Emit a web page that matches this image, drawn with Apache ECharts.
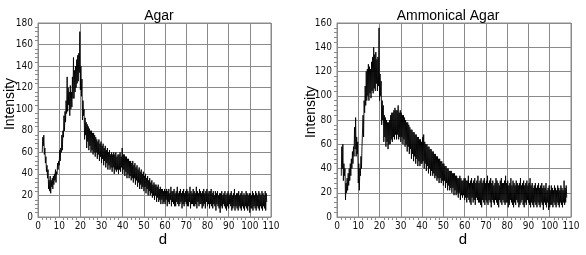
<!DOCTYPE html>
<html><head><meta charset="utf-8">
<script src="https://cdn.jsdelivr.net/npm/echarts@6/dist/echarts.min.js"></script>
<style>html,body{margin:0;padding:0;background:#fff}#c{width:586px;height:255px}</style>
</head><body><div id="c"></div>
<script>
// sampling grid of d (start, step)
const dStart = 2.0, dStep = 0.25;
const titles = ['Agar', 'Ammonical Agar'];
const yName = 'Intensity', xName = 'd';
const yMaxes = [180, 160];

// Agar intensity, d = 2.0 .. 108.0 step 0.25 (one row per unit of d)
const agar = [
 60,74,66,76, 58,64,50,56, 42,48,36,44, 26,34,24,38, 22,34,28,36,
 26,38,30,40, 34,44,32,42, 40,50,44,52, 48,62,52,64, 60,76,62,80,
 74,94,80,98, 88,108,96,130, 98,120,104,116, 94,122,100,116, 102,130,110,148,
 110,136,116,140, 120,146,124,150, 126,152,134,172, 118,140,112,128, 90,108,94,100,
 72,92,76,88, 64,86,70,84, 62,82,66,80, 60,80,62,78, 58,78,60,76,
 56,74,60,72, 54,70,58,72, 52,68,56,70, 50,66,54,68, 48,64,52,66,
 46,62,50,64, 44,60,48,62, 44,58,46,60, 42,58,46,60, 40,58,44,60,
 42,56,44,58, 40,58,44,60, 42,56,46,64, 40,58,44,58, 38,56,42,56,
 36,54,40,54, 36,52,38,52, 34,50,36,52, 32,48,36,50, 30,46,34,48,
 28,44,32,46, 26,42,30,44, 26,40,28,42, 24,38,28,40, 22,36,26,38,
 20,34,24,36, 20,32,22,34, 18,30,20,32, 16,30,20,30, 14,28,18,30,
 14,26,16,28, 12,26,16,26, 12,24,14,26, 12,24,16,26, 10,24,14,26,
 12,22,16,28, 10,24,14,24, 12,26,10,22, 10,24,14,28, 12,22,10,24,
 12,26,14,22, 8,24,12,26, 10,22,14,24, 12,26,10,24, 10,22,14,28,
 8,24,12,22, 12,26,10,24, 10,22,12,28, 8,24,14,22, 10,26,12,24,
 12,22,8,24, 10,26,12,22, 8,24,14,26, 10,22,12,24, 8,24,12,26,
 10,22,8,24, 12,20,10,24, 6,22,12,24, 10,20,8,22, 4,22,10,24,
 8,20,12,22, 10,24,8,20, 6,22,10,24, 8,20,12,22, 10,24,6,20,
 8,22,10,26, 6,20,10,22, 8,22,6,24, 10,20,8,22, 6,24,10,20,
 8,22,6,20, 10,24,8,22, 6,20,10,22, 4,22,8,20, 8,24,6,22,
 10,20,8,24, 6,22,10,20, 8,24,6,22, 10,20,8,24, 6,22,10,20,
 8,24,6,22, 14
];

// Ammonical Agar intensity, d = 2.0 .. 108.0 step 0.25 (one row per unit of d)
const ammonical = [
 34,58,40,60, 30,44,34,40, 14,28,20,32, 22,36,26,40, 30,44,34,48,
 40,54,44,58, 50,74,56,82, 50,66,52,62, 28,44,22,40, 34,50,40,58,
 58,84,66,96, 86,108,92,120, 96,122,100,126, 96,124,102,122, 98,128,104,132,
 102,140,106,134, 104,136,110,130, 104,132,108,156, 96,118,100,112, 76,96,80,92,
 62,84,66,82, 58,80,62,78, 56,78,60,80, 60,84,64,86, 62,86,66,88,
 64,90,68,88, 64,88,68,92, 64,86,66,88, 62,86,66,84, 60,84,64,82,
 58,80,60,78, 54,78,58,76, 52,74,56,72, 48,72,52,70, 46,70,50,68,
 44,68,48,66, 42,66,46,64, 42,64,44,62, 44,66,46,68, 40,62,44,60,
 38,60,42,58, 36,58,40,56, 34,56,38,54, 34,54,36,52, 32,52,34,50,
 30,50,32,48, 28,48,32,46, 28,46,30,44, 26,44,30,42, 24,42,28,40,
 22,40,26,38, 22,38,24,38, 20,36,24,36, 18,36,22,34, 18,34,20,32,
 16,32,20,34, 14,32,18,30, 16,30,18,32, 14,32,16,30, 12,30,16,34,
 14,28,12,30, 10,32,16,28, 12,30,14,32, 10,28,16,30, 14,34,12,28,
 12,30,10,32, 8,28,14,30, 12,32,10,28, 14,30,12,34, 10,28,14,30,
 12,32,8,28, 14,30,12,26, 10,28,14,32, 12,30,10,28, 8,26,14,30,
 12,32,10,28, 14,28,12,30, 10,34,12,28, 12,30,8,26, 10,28,14,32,
 12,26,10,30, 8,28,12,26, 10,30,14,28, 12,26,8,28, 10,32,12,26,
 14,28,10,30, 8,26,12,28, 10,30,14,26, 12,28,10,32, 8,26,12,28,
 10,24,8,26, 12,28,10,24, 8,26,12,28, 10,24,8,26, 12,28,10,24,
 6,26,12,24, 10,28,8,22, 12,24,6,26, 8,22,10,26, 10,24,8,22,
 12,26,10,24, 8,22,12,26, 10,24,8,22, 12,26,10,24, 8,22,12,30,
 10,24,12,26, 16
];

function pairs(arr){ return arr.map((v,i)=>[dStart + i*dStep, v]); }

const FONT = 'Liberation Sans';
const TICKFONT = "'Liberation Sans Narrow', 'DejaVu Sans Condensed', 'Liberation Sans'";
const gridColor = '#8a8a8a';
function xAx(idx){
  return {
    gridIndex: idx, type:'value', min:0, max:110, interval:10,
    axisLine:{show:true, lineStyle:{color:gridColor, width:1}},
    axisTick:{show:false},
    minorTick:{show:true, splitNumber:5, length:3, lineStyle:{color:gridColor}},
    axisLabel:{fontFamily:TICKFONT, fontSize:10, color:'#111', margin:4, showMinLabel:true, showMaxLabel:true},
    splitLine:{show:true, lineStyle:{color:gridColor, width:1}}
  };
}
function yAx(idx, max){
  return {
    gridIndex: idx, type:'value', min:0, max:max, interval:20,
    axisLine:{show:true, lineStyle:{color:gridColor, width:1}},
    axisTick:{show:false},
    minorTick:{show:true, splitNumber:5, length:3, lineStyle:{color:gridColor}},
    axisLabel:{fontFamily:TICKFONT, fontSize:10, color:'#111', margin:5},
    splitLine:{show:true, lineStyle:{color:gridColor, width:1}}
  };
}
function label(text, x, y, rot, size){
  return {type:'text', x:x, y:y, rotation:rot, style:{text:text, fontFamily:FONT, fontSize:size, fill:'#000', align:'center', verticalAlign:'middle'}};
}
const chart = echarts.init(document.getElementById('c'), null, {renderer:'canvas'});
chart.setOption({
  animation:false,
  backgroundColor:'#fff',
  title:[
    {text:titles[0], left:154, top:4, textAlign:'center', textStyle:{fontFamily:FONT, fontSize:14, fontWeight:'normal', color:'#000'}},
    {text:titles[1], left:443, top:4, textAlign:'center', textStyle:{fontFamily:FONT, fontSize:14, fontWeight:'normal', color:'#000'}}
  ],
  graphic:[
    label(yName, 10, 104, Math.PI/2, 14),
    label(yName, 311, 112, Math.PI/2, 14),
    label(xName, 163, 240, 0, 15),
    label(xName, 463, 240, 0, 15)
  ],
  grid:[
    {left:38, top:23, width:233, height:194, show:true, borderColor:gridColor, borderWidth:1, containLabel:false},
    {left:337, top:23, width:234, height:194, show:true, borderColor:gridColor, borderWidth:1, containLabel:false}
  ],
  xAxis:[xAx(0), xAx(1)],
  yAxis:[yAx(0, yMaxes[0]), yAx(1, yMaxes[1])],
  series:[
    {type:'line', xAxisIndex:0, yAxisIndex:0, data:pairs(agar), showSymbol:false, symbol:'none', sampling:null, lineStyle:{color:'#000', width:0.9}},
    {type:'line', xAxisIndex:1, yAxisIndex:1, data:pairs(ammonical), showSymbol:false, symbol:'none', sampling:null, lineStyle:{color:'#000', width:0.9}}
  ]
});
</script></body></html>
